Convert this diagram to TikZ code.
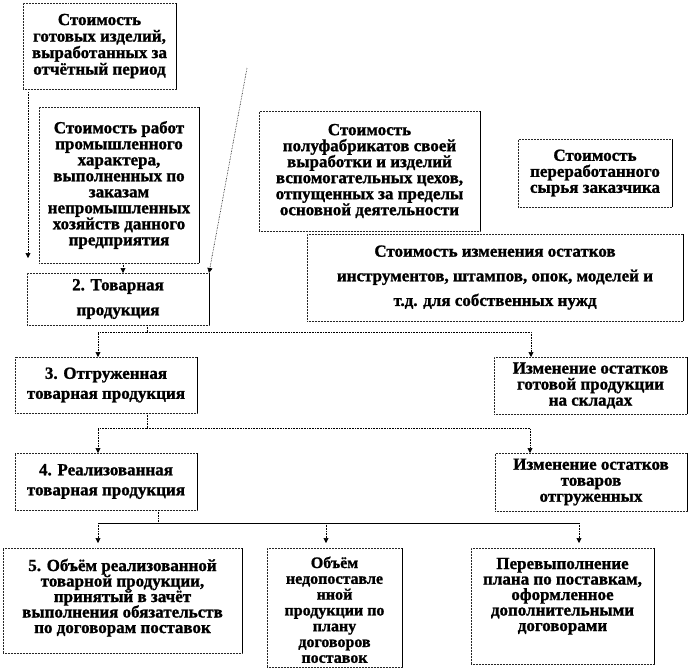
\documentclass[tikz,border=0pt]{standalone}
\usepackage{fontspec}
\setmainfont{Liberation Serif}[BoldFeatures={FakeBold=1.2}]
\usetikzlibrary{arrows.meta}
\newcommand\bxt[6]{\parbox[c][#2pt][#3]{#1pt}{\centering\fontsize{#4pt}{#5pt}\selectfont\lineskiplimit=-50pt\lineskip=0pt #6}}
\tikzset{
  box/.style={draw=black!85, densely dotted, line width=0.5pt, inner sep=0pt, outer sep=0pt, font=\bfseries,
    append after command={(\tikzlastnode.north east) edge[solid, draw=black, line width=0.8pt] (\tikzlastnode.south east)}},
  ln/.style={densely dotted, draw=black, line width=0.6pt},
  arr/.style={ln, -{Triangle[length=5pt,width=5pt]}},
  solidln/.style={solid, draw=black, line width=0.7pt},
}
\begin{document}
\begin{tikzpicture}[x=1pt,y=-1pt]
\fill[white] (0,0) rectangle (690,670);
\useasboundingbox (0,0) rectangle (690,670);

\node[box] (A) at (99.5,46) {\bxt{153}{86}{c}{17}{16.5}{Стоимость\\готовых изделий,\\выработанных за\\отчётный период}};
\node[box] (B) at (119,185) {\bxt{160}{156}{c}{17}{16}{Стоимость работ\\промышленного\\характера,\\выполненных по\\заказам\\непромышленных\\хозяйств данного\\предприятия}};
\node[box] (P) at (369.5,171) {\bxt{221}{120}{c}{17}{16}{Стоимость\\полуфабрикатов своей\\выработки и изделий\\вспомогательных цехов,\\отпущенных за пределы\\основной деятельности}};
\node[box] (R) at (595,173) {\bxt{154}{68}{c}{17}{16}{Стоимость\\переработанного\\сырья заказчика}};
\node[box] (I) at (495,277.5) {\bxt{376}{87}{c}{17}{24.6}{Стоимость изменения остатков\\инструментов, штампов, опок, моделей и\\т.д. для собственных нужд}};
\node[box] (T2) at (118,299) {\bxt{182}{52}{c}{17}{25}{2. Товарная\\продукция}};
\node[box] (T3) at (106,385) {\bxt{182}{56}{c}{17}{20}{3. Отгруженная\\товарная продукция}};
\node[box] (G) at (590.5,385.5) {\bxt{193}{57}{c}{17}{16}{Изменение остатков\\готовой продукции\\на складах}};
\node[box] (T4) at (106,481.5) {\bxt{182}{57}{c}{17}{20}{4. Реализованная\\товарная продукция}};
\node[box] (O) at (591,482) {\bxt{192}{58}{c}{17}{16}{Изменение остатков\\товаров\\отгруженных}};
\node[box] (T5) at (122.5,600.5) {\bxt{239}{105}{t}{17}{15.5}{\rule{0pt}{23pt}5. Объём реализованной\\товарной продукции,\\принятый в зачёт\\выполнения обязательств\\по договорам поставок}};
\node[box] (N) at (334.5,607.5) {\bxt{135}{119}{t}{16}{15.8}{\rule{0pt}{20pt}Объём\\недопоставле\\нной\\продукции по\\плану\\договоров\\поставок}};
\node[box] (V) at (562.5,606) {\bxt{183}{116}{t}{17}{15.5}{\rule{0pt}{21pt}Перевыполнение\\плана по поставкам,\\оформленное\\дополнительными\\договорами}};

\coordinate (d0) at (247,68);
\coordinate (j1) at (147,332);
\coordinate (j2) at (147,428);
\coordinate (j3) at (158,523);

\draw[arr, shorten <=3pt, shorten >=15pt] ([xshift=5pt]A.south west) -- ([xshift=5pt]A.south west |- T2.north);
\draw[arr] ([xshift=4pt]B.south) -- ([xshift=4pt]B.south |- T2.north);
\draw[arr] (d0) -- (T2.north east);

\draw[ln] (T2.south -| j1) -- (j1);
\draw[arr] (j1) -| ([xshift=-8pt]T3.north);
\draw[arr] (j1) -| ([xshift=-59.5pt]G.north);

\draw[ln] (T3.south -| j2) -- (j2);
\draw[arr] (j2) -| ([xshift=-8pt]T4.north);
\draw[arr] (j2) -| ([xshift=-61pt]O.north);

\draw[ln] (T4.south -| j3) -- (j3);
\draw[solidln] ([xshift=-24.5pt]T5.north |- j3) -- ([xshift=16.5pt]V.north |- j3);
\draw[arr, shorten >=5pt] ([xshift=-24.5pt]T5.north |- j3) -- ([xshift=-24.5pt]T5.north);
\draw[arr, shorten >=5pt] ([xshift=-8.5pt]N.north |- j3) -- ([xshift=-8.5pt]N.north);
\draw[arr, shorten >=5pt] ([xshift=16.5pt]V.north |- j3) -- ([xshift=16.5pt]V.north);
\end{tikzpicture}
\end{document}
